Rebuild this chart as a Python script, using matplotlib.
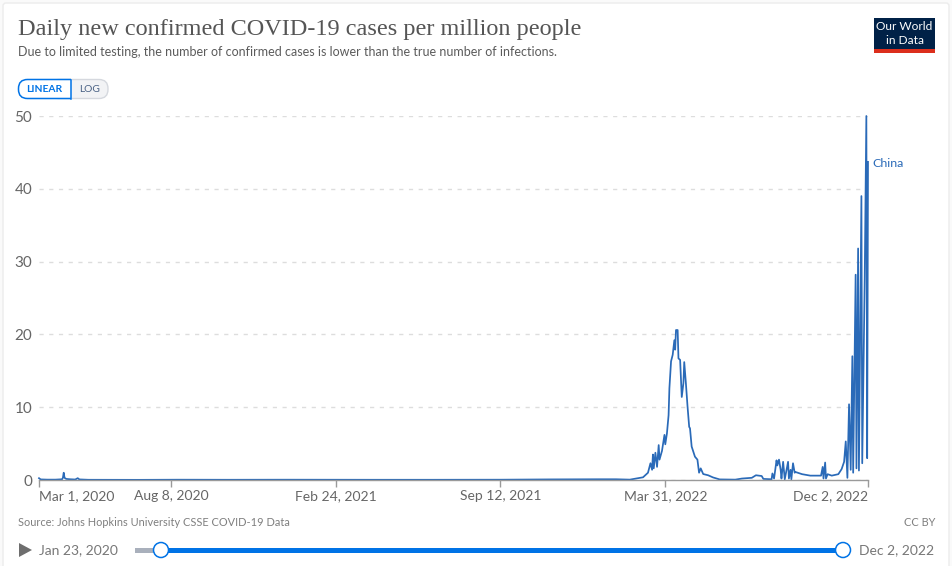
import datetime as dt
import matplotlib
matplotlib.use('Agg')
import matplotlib.pyplot as plt
from matplotlib.patches import FancyBboxPatch, Rectangle, Polygon, Circle

plt.rcParams['font.family'] = ['Lato', 'DejaVu Sans']

W, H = 952, 566
first_day = dt.date(2020, 3, 1)

# days since Mar 1, 2020 and cases per million
days = [0, 2, 10, 20, 28, 29, 30, 31, 33, 38, 44, 47, 49, 60, 120, 170, 230, 300, 400, 480, 560, 620, 680, 700,
        717, 733, 739, 742, 744, 745, 746, 748, 750, 752, 753, 756, 759, 760, 762, 764, 765, 767, 769, 771, 772,
        773, 775, 776, 778, 780, 782, 783, 785, 787, 789, 790, 792, 796, 799, 801, 803, 806, 812, 818, 826,
        845, 853, 865, 870, 877, 879, 889, 890, 892, 895, 896, 898, 900, 901, 903, 905, 909, 910, 912, 913,
        915, 917, 918, 926, 936, 942, 949, 951, 952, 954, 955, 957, 962, 970, 974, 977,
        979, 981, 983, 985, 987, 988, 991, 992, 994, 995, 998, 999, 1002, 1004, 1005, 1006]
cases = [0.25, 0.08, 0.05, 0.05, 0.1, 0.3, 1.0, 0.3, 0.15, 0.1, 0.07, 0.25, 0.08, 0.03, 0.02, 0.04, 0.03, 0.04, 0.03, 0.03, 0.04, 0.08, 0.1, 0.1,
         0.05, 0.37, 1.0, 2.3, 1.4, 3.5, 1.6, 3.75, 1.8, 4.8, 2.8, 4.0, 6.2, 4.9, 6.4, 8.9, 12.6, 16.3, 17.2, 19.2, 17.9,
         20.6, 20.6, 16.7, 16.5, 11.4, 13.3, 16.2, 13.3, 10.1, 7.3, 7.1, 4.6, 3.2, 2.8, 1.0, 1.6, 0.82, 0.65, 0.35, 0.08,
         0.05, 0.2, 0.3, 0.65, 0.55, 0.15, 0.1, 0.9, 0.2, 2.7, 2.0, 2.8, 1.4, 0.2, 2.5, 0.1, 2.5, 0.2, 1.4, 0.1,
         2.3, 1.0, 1.1, 0.8, 0.6, 0.6, 0.6, 1.8, 0.2, 2.4, 0.2, 0.8, 0.6, 0.8, 1.5, 2.5,
         5.3, 0.3, 10.4, 1.4, 17.0, 1.0, 28.2, 1.6, 31.8, 1.3, 39.0, 2.3, 27.5, 50.0, 3.0, 43.7]

tick_days = [0, 160, 360, 560, 760, 1006]
tick_labels = ['Mar 1, 2020', 'Aug 8, 2020', 'Feb 24, 2021', 'Sep 12, 2021', 'Mar 31, 2022', 'Dec 2, 2022']
y_ticks = [0, 10, 20, 30, 40, 50]

dates = [first_day + dt.timedelta(days=d) for d in days]
ticks = [first_day + dt.timedelta(days=d) for d in tick_days]

fig = plt.figure(figsize=(W / 100, H / 100), dpi=100, facecolor='#fafafa')

# page furniture, in pixels
ui = fig.add_axes([0, 0, 1, 1], zorder=0)
ui.set_xlim(0, W)
ui.set_ylim(H, 0)
ui.axis('off')
ui.add_patch(FancyBboxPatch((3, 3), 946, 570, boxstyle='round,pad=0,rounding_size=3', fc='white', ec='#ececec', lw=1))

ui.text(18, 30, 'Daily new confirmed COVID-19 cases per million people', family=['Liberation Serif'],
        fontsize=17.5, color='#555555', va='center', ha='left')
ui.text(18, 52, 'Due to limited testing, the number of confirmed cases is lower than the true number of infections.',
        fontsize=9.0, color='#5b5b5b', va='center', ha='left')

# logo
ui.add_patch(Rectangle((874, 18), 61, 35, fc='#002147', ec='none'))
ui.add_patch(Rectangle((874, 49), 61, 4, fc='#dc2e1c', ec='none'))
ui.text(904.5, 27, 'Our World', color='white', fontsize=8.6, ha='center', va='center')
ui.text(904.5, 40.5, 'in Data', color='white', fontsize=8.6, ha='center', va='center')

# linear / log buttons
ui.add_patch(FancyBboxPatch((50, 79.5), 58, 19, boxstyle='round,pad=0,rounding_size=9', fc='#f2f3f5', ec='#d5d8de', lw=1))
ui.add_patch(Rectangle((40, 80), 31, 18, fc='white', ec='none'))
linear_btn = FancyBboxPatch((18.5, 79.5), 80, 19, boxstyle='round,pad=0,rounding_size=9', fc='white', ec='#0073e6', lw=1.1)
ui.add_patch(linear_btn)
linear_btn.set_clip_path(Rectangle((17, 78), 54, 22, transform=ui.transData))
ui.plot([71, 71], [79.5, 98.5], color='#0073e6', lw=1.1)
ui.text(44.5, 89.5, 'LINEAR', color='#0073e6', fontsize=7.4, fontweight='bold', ha='center', va='center')
ui.text(90, 89.5, 'LOG', color='#4a6285', fontsize=7.4, ha='center', va='center')

# footer
ui.text(18, 522.5, 'Source: Johns Hopkins University CSSE COVID-19 Data', color='#7f7f7f', fontsize=7.9, va='center')
ui.text(935, 522.5, 'CC BY', color='#7f7f7f', fontsize=7.9, va='center', ha='right')

# time slider
ui.add_patch(Polygon([(19, 543), (19, 557), (32, 550)], fc='#6e6e6e', ec='none'))
ui.text(39, 550, 'Jan 23, 2020', color='#777777', fontsize=10, va='center')
ui.text(859, 550, 'Dec 2, 2022', color='#777777', fontsize=10, va='center')
ui.add_patch(Rectangle((135, 547.5), 26, 5, fc='#a9b0bc', ec='none'))
ui.add_patch(Rectangle((161, 547.5), 682, 5, fc='#0073e6', ec='none'))
for cx in [161, 843]:
    ui.add_patch(Circle((cx, 550), 7.5, fc='white', ec='#0073e6', lw=1.1, zorder=5))

# main chart
ax = fig.add_axes([39 / W, 1 - 480 / H, 829 / W, 364 / H], zorder=1)
ax.patch.set_alpha(0)
ax.plot(dates, cases, color='#2a6ab8', lw=1.25, clip_on=False, solid_joinstyle='round')
ax.set_xlim(first_day, first_day + dt.timedelta(days=1006))
ax.set_ylim(0, 50)

for side in ['top', 'left', 'right']:
    ax.spines[side].set_visible(False)
ax.spines['bottom'].set_color('#9a9a9a')
ax.spines['bottom'].set_linewidth(1)

ax.set_yticks(y_ticks)
ax.yaxis.grid(True, color='#dddddd', lw=1, ls=(0, (3, 4)))
ax.set_axisbelow(True)
ax.tick_params(axis='y', length=0, pad=5, labelsize=11, labelcolor='#666666')
ax.set_xticks(ticks)
ax.set_xticklabels(tick_labels)
ax.tick_params(axis='x', length=5, width=1, color='#9a9a9a', pad=2, labelsize=10, labelcolor='#666666')
labels = ax.get_xticklabels()
labels[0].set_ha('left')
labels[-1].set_ha('right')

ax.text(first_day + dt.timedelta(days=1011), 43.5, 'China', color='#2a6ab8', fontsize=8.9, va='center', ha='left', clip_on=False)

fig.savefig('out.png', dpi=100, facecolor=fig.get_facecolor())
